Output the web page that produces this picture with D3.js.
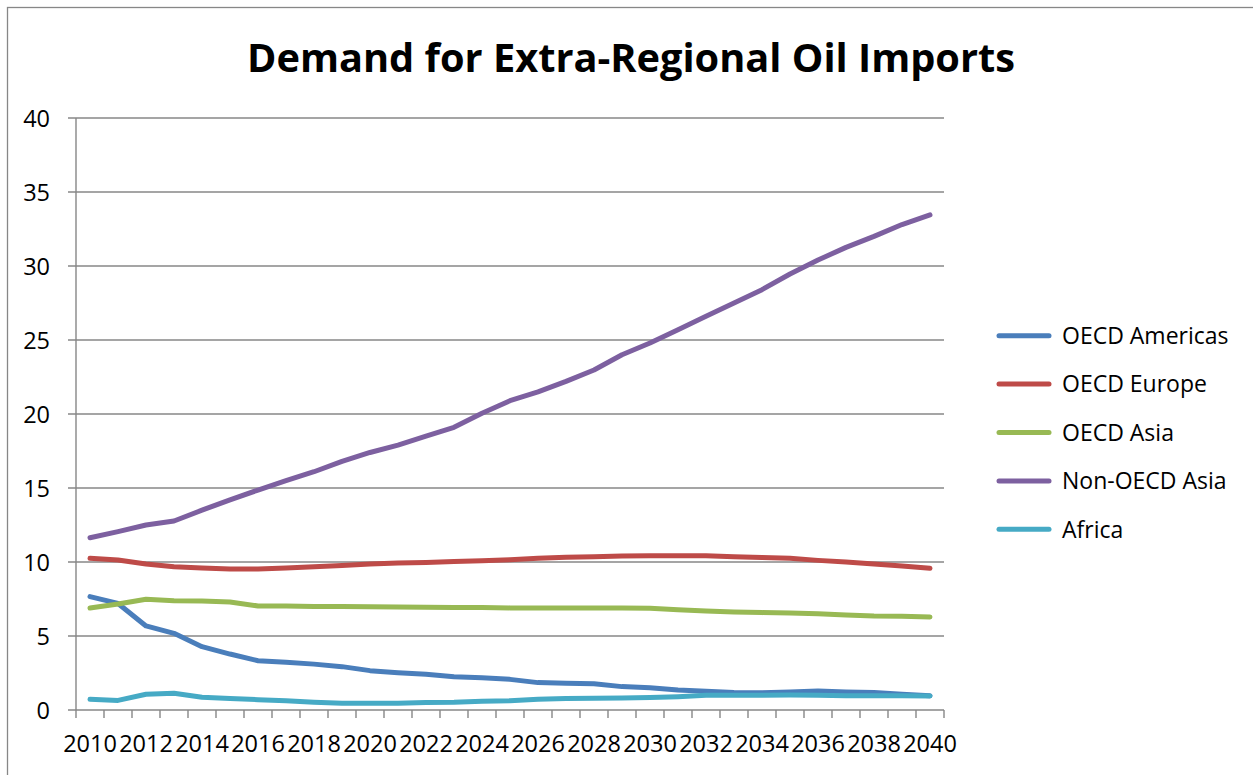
<!DOCTYPE html>
<html>
<head>
<meta charset="utf-8">
<script src="https://cdn.jsdelivr.net/npm/d3@7"></script>
<style>
  html, body { margin: 0; padding: 0; background: #fff; }
  svg { display: block; }
  text { font-family: "Open Sans", "Liberation Sans", sans-serif; fill: #000; }
</style>
</head>
<body>
<svg id="chart" width="1253" height="775"></svg>
<script>
const title = "Demand for Extra-Regional Oil Imports";
const years = d3.range(2010, 2041);
const yTicks = [0, 5, 10, 15, 20, 25, 30, 35, 40];
const xLabelYears = years.filter(y => y % 2 === 0);

const seriesNames = ["OECD Americas", "OECD Europe", "OECD Asia", "Non-OECD Asia", "Africa"];
const seriesColors = ["#4A7EBB", "#BE4B48", "#98B954", "#7D60A0", "#46AAC5"];

const oecdAmericas = [7.66, 7.2, 5.68, 5.18, 4.28, 3.78, 3.33, 3.22, 3.1, 2.93, 2.66, 2.52, 2.41, 2.25, 2.18, 2.07, 1.85, 1.8, 1.78, 1.58, 1.51, 1.35, 1.26, 1.19, 1.17, 1.22, 1.28, 1.22, 1.19, 1.06, 0.97];
const oecdEurope = [10.25, 10.13, 9.86, 9.68, 9.6, 9.53, 9.53, 9.59, 9.68, 9.77, 9.86, 9.93, 9.97, 10.04, 10.09, 10.16, 10.25, 10.32, 10.35, 10.4, 10.42, 10.42, 10.42, 10.36, 10.3, 10.25, 10.11, 10.0, 9.86, 9.73, 9.57];
const oecdAsia = [6.89, 7.16, 7.48, 7.39, 7.36, 7.3, 7.03, 7.03, 7.0, 7.0, 6.98, 6.96, 6.95, 6.93, 6.92, 6.9, 6.9, 6.9, 6.9, 6.9, 6.87, 6.78, 6.69, 6.62, 6.58, 6.56, 6.51, 6.42, 6.35, 6.33, 6.28];
const nonOecdAsia = [11.64, 12.05, 12.5, 12.77, 13.5, 14.2, 14.86, 15.5, 16.1, 16.8, 17.4, 17.9, 18.5, 19.1, 20.05, 20.9, 21.5, 22.2, 22.97, 24.0, 24.8, 25.7, 26.6, 27.5, 28.4, 29.46, 30.4, 31.26, 32.0, 32.8, 33.45];
const africa = [0.72, 0.65, 1.06, 1.13, 0.86, 0.77, 0.7, 0.63, 0.52, 0.45, 0.45, 0.45, 0.5, 0.52, 0.59, 0.63, 0.72, 0.77, 0.79, 0.81, 0.84, 0.9, 0.99, 0.99, 0.99, 1.01, 0.99, 0.97, 0.97, 0.97, 0.95];

const seriesValues = [oecdAmericas, oecdEurope, oecdAsia, nonOecdAsia, africa];

const svg = d3.select("#chart");
const gridColor = "#878787";

// outer chart border
svg.append("rect")
  .attr("x", 7.5).attr("y", 7.5)
  .attr("width", 1262).attr("height", 800)
  .attr("fill", "#fff").attr("stroke", gridColor).attr("stroke-width", 1.3);

const plot = { left: 76, right: 944, top: 118, bottom: 710 };
const x = d3.scaleBand().domain(years).range([plot.left, plot.right]).padding(0);
const y = d3.scaleLinear().domain([0, 40]).range([plot.bottom, plot.top]);
const cx = d => x(d) + x.bandwidth() / 2;

// title
const t = svg.append("text")
  .attr("x", 631).attr("y", 72)
  .attr("text-anchor", "middle")
  .style("font-weight", "bold")
  .style("font-size", "40px")
  .text(title);
const tw = t.node().getComputedTextLength();
t.style("font-size", (40 * 768 / tw).toFixed(2) + "px");

// gridlines
svg.append("g").selectAll("line").data(yTicks).join("line")
  .attr("x1", plot.left - 8).attr("x2", plot.right)
  .attr("y1", d => y(d)).attr("y2", d => y(d))
  .attr("stroke", gridColor).attr("stroke-width", 1.4);

// y axis line
svg.append("line")
  .attr("x1", plot.left).attr("x2", plot.left)
  .attr("y1", y(40)).attr("y2", y(0))
  .attr("stroke", gridColor).attr("stroke-width", 1.4);

// y labels
const yAxis = d3.axisLeft(y).tickValues(yTicks).tickSize(0).tickPadding(0).tickFormat(d3.format("d"));
const gy = svg.append("g").attr("transform", `translate(${plot.left - 26},0)`).call(yAxis);
gy.select(".domain").remove();
gy.selectAll("text").style("font-size", "23.5px").style("font-family", '"Open Sans", sans-serif').attr("fill", "#000").attr("dy", "0.36em");

// x tick marks at band boundaries
const boundaries = years.map(d => x(d)).concat([plot.right]);
svg.append("g").selectAll("line").data(boundaries).join("line")
  .attr("x1", d => d).attr("x2", d => d)
  .attr("y1", plot.bottom).attr("y2", plot.bottom + 8)
  .attr("stroke", gridColor).attr("stroke-width", 1.4);

// x labels
const xAxis = d3.axisBottom(x).tickValues(xLabelYears).tickSize(0).tickPadding(0);
const gx = svg.append("g").attr("transform", `translate(0,${plot.bottom})`).call(xAxis);
gx.select(".domain").remove();
gx.selectAll("text").style("font-size", "23.5px").style("font-family", '"Open Sans", sans-serif').attr("fill", "#000").attr("y", 42).attr("dy", 0);

// lines
const line = d3.line().x((v, i) => cx(years[i])).y(v => y(v)).curve(d3.curveLinear);
svg.append("g").selectAll("path").data(seriesValues).join("path")
  .attr("d", line)
  .attr("fill", "none")
  .attr("stroke", (d, i) => seriesColors[i])
  .attr("stroke-width", 5)
  .attr("stroke-linejoin", "round")
  .attr("stroke-linecap", "round");

// legend
const legendY = d3.scalePoint().domain(seriesNames).range([335.7, 529.3]);
const lg = svg.append("g").selectAll("g").data(seriesNames).join("g")
  .attr("transform", d => `translate(0,${legendY(d)})`);
lg.append("line")
  .attr("x1", 999).attr("x2", 1049)
  .attr("stroke", (d, i) => seriesColors[i])
  .attr("stroke-width", 5).attr("stroke-linecap", "round");
lg.append("text")
  .attr("x", 1062).attr("dy", "0.36em")
  .style("font-size", "23px")
  .text(d => d);
</script>
</body>
</html>
